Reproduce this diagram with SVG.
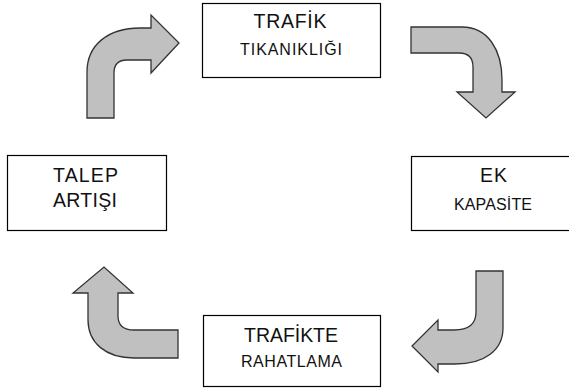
<svg xmlns="http://www.w3.org/2000/svg" width="569" height="389" viewBox="0 0 569 389">
<style>
.box{fill:#fff;stroke:#000;stroke-width:1.2}
.arr{fill:#c0c0c0;stroke:#333;stroke-width:1.3;stroke-linejoin:miter}
.t1{font-family:"Liberation Sans",Arial,sans-serif;font-size:19.5px;fill:#111;text-anchor:middle}
.t2{font-family:"Liberation Sans",Arial,sans-serif;font-size:16px;fill:#111;text-anchor:middle}
</style>
<rect width="569" height="389" fill="#fff"/>
<g id="connectors">
<path class="arr" d="M87,118 L87,72 C87,45 108,28 140,28 L151,28 L151,15 L179,43 L151,73 L151,60 L127,60 Q114,60 114,73 L114,118 Z"/>
<path class="arr" d="M411,27 L462,27 C488,27 502,50 502,80 L502,92 L515,92 L486,118 L457,92 L473,92 L473,67 Q473,53 459,53 L411,53 Z"/>
<path class="arr" d="M476,271 L503,271 L503,328 C503,350 485,364 455,364 L438,364 L438,372 L412,346 L438,320 L438,330 L454,330 Q476,330 476,312 Z"/>
<path class="arr" d="M178,330 L178,358 L134,358 C106,358 88,343 88,320 L88,293 L73,293 L104,267 L133,293 L118,293 L118,316 Q118,330 134,330 Z"/>
</g>
<g id="trafik-tikanikligi">
<rect class="box" x="202.5" y="3.5" width="178" height="74"/>
<text class="t1" x="290" y="28" textLength="73" lengthAdjust="spacing">TRAFİK</text>
<text class="t2" x="291" y="55" textLength="102" lengthAdjust="spacing">TIKANIKLIĞI</text>
</g>
<g id="ek-kapasite">
<rect class="box" x="411.5" y="156.5" width="170" height="74"/>
<text class="t1" x="493.5" y="182" textLength="27" lengthAdjust="spacing">EK</text>
<text class="t2" x="493" y="210" textLength="78" lengthAdjust="spacing">KAPASİTE</text>
</g>
<g id="trafikte-rahatlama">
<rect class="box" x="203.5" y="315.5" width="177" height="71"/>
<text class="t1" x="291" y="342" textLength="94" lengthAdjust="spacing">TRAFİKTE</text>
<text class="t2" x="291.5" y="367" textLength="101" lengthAdjust="spacing">RAHATLAMA</text>
</g>
<g id="talep-artisi">
<rect class="box" x="7.5" y="155.5" width="159" height="75"/>
<text class="t1" x="85.5" y="182" textLength="65" lengthAdjust="spacing">TALEP</text>
<text class="t1" x="85" y="207" textLength="64" lengthAdjust="spacing">ARTIŞI</text>
</g>
</svg>
